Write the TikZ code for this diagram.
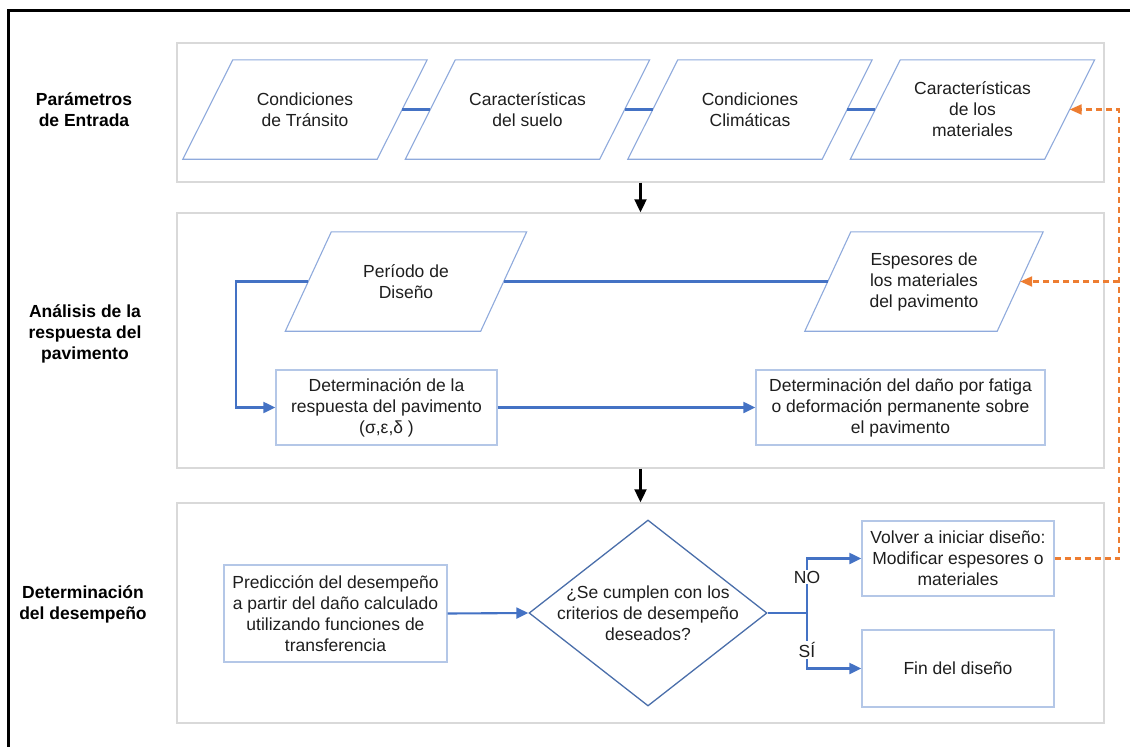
\documentclass[tikz,border=0pt]{standalone}
\usepackage{fontspec}
\setmainfont{Liberation Sans}
\usetikzlibrary{arrows.meta,shapes.geometric,calc}
\definecolor{connblue}{HTML}{4472C4}
\definecolor{parablue}{HTML}{8FAADC}
\definecolor{boxblue}{HTML}{B4C7E7}
\definecolor{diamblue}{HTML}{4A6EAA}
\definecolor{panelgray}{HTML}{D9D9D9}
\definecolor{orng}{HTML}{ED7D31}
\definecolor{txt}{HTML}{1E1E1E}
\begin{document}
\begin{tikzpicture}[x=1pt,y=-1pt,
  font=\fontsize{17.5}{21}\selectfont, text=txt,
  panel/.style={draw=panelgray, line width=1.4pt, minimum width=927pt, inner sep=0pt},
  parabox/.style={minimum width=194pt, minimum height=99pt, inner sep=0pt, align=center},
  paraline/.style={draw=parablue, line width=1.1pt, line join=miter},
  procbox/.style={draw=boxblue, line width=1.3pt, inner sep=0pt, align=center},
  sidelabel/.style={font=\fontsize{17.5}{21}\selectfont\bfseries, text=black, align=center},
  conn/.style={draw=connblue, line width=2.1pt},
  connarrow/.style={conn, -{Triangle[length=12pt,width=11pt]}},
  blackarrow/.style={draw=black, line width=2.1pt, -{Triangle[length=13pt,width=12pt]}},
  orangedash/.style={draw=orng, line width=2.2pt, dash pattern=on 6pt off 4pt},
  orangearrow/.style={orangedash, -{Triangle[length=12pt,width=10pt]}},
  branchlabel/.style={fill=white, inner sep=1pt}]
\useasboundingbox (0,0) rectangle (1130,747);
% outer frame (only left and top visible)
\draw[line width=3pt, black] (8,760) -- (8,10) -- (1140,10);

% panels
\node[panel, minimum height=139pt] (pan1) at (640.5,112.5) {};
\node[panel, minimum height=255pt] (pan2) at (640.5,340.5) {};
\node[panel, minimum height=220pt] (pan3) at (640.5,613) {};

% side labels
\node[sidelabel] (l1) at (84,110) {Parámetros\\de Entrada};
\node[sidelabel] (l2) at (85,334) {Análisis de la\\respuesta del\\pavimento};
\node[sidelabel] (l3) at (83,604) {Determinación\\del desempeño};

% top row parallelograms
\node[parabox] (p1) at (305,109.5) {Condiciones\\de Tránsito};
\node[parabox] (p2) at (527.5,109.5) {Características\\del suelo};
\node[parabox] (p3) at (750,109.5) {Condiciones\\Climáticas};
\node[parabox] (p4) at (972.5,109.5) {Características\\de los\\materiales};
\foreach \n in {p1,p2,p3,p4}
  \draw[paraline] ([xshift=-25pt]\n.south west) -- ([xshift=-25pt]\n.south east)
     -- ([xshift=25pt]\n.north east) -- ([xshift=25pt]\n.north west) -- cycle;

% middle row parallelograms
\node[parabox, minimum width=195pt] (pd) at (406,281.5) {Período de\\Diseño};
\node[parabox, minimum width=192pt] (pe) at (924,281.5) {Espesores de\\los materiales\\del pavimento};
\foreach \n in {pd,pe}
  \draw[paraline] ([xshift=-23pt]\n.south west) -- ([xshift=-23pt]\n.south east)
     -- ([xshift=23pt]\n.north east) -- ([xshift=23pt]\n.north west) -- cycle;

% process boxes
\node[procbox, minimum width=221pt, minimum height=75pt] (r1) at (386.5,407.5)
  {Determinación de la\\respuesta del pavimento\\(σ,ε,δ )};
\node[procbox, minimum width=289pt, minimum height=75pt] (r2) at (900.5,407.5)
  {Determinación del daño por fatiga\\o deformación permanente sobre\\el pavimento};
\node[procbox, minimum width=223pt, minimum height=97pt] (pr) at (335.5,613.5)
  {Predicción del desempeño\\a partir del daño calculado\\utilizando funciones de\\transferencia};
\node[procbox, minimum width=192pt, minimum height=75pt] (vb) at (958,558.5)
  {Volver a iniciar diseño:\\Modificar espesores o\\materiales};
\node[procbox, minimum width=192pt, minimum height=77pt] (fin) at (958,668.5)
  {Fin del diseño};

% decision diamond
\node[diamond, draw=diamblue, line width=1.3pt, minimum width=238pt, minimum height=186pt,
      inner sep=0pt, aspect=1.28] (dm) at (648,613) {};
\node[align=center, inner sep=0pt] (dmtext) at (dm.center)
  {¿Se cumplen con los\\criterios de desempeño\\deseados?};

% top row links
\draw[conn] (p1.east) -- (p2.west);
\draw[conn] (p2.east) -- (p3.west);
\draw[conn] (p3.east) -- (p4.west);

% flow between panels
\draw[blackarrow] (pan1.south) -- (pan2.north);
\draw[blackarrow] (pan2.south) -- (pan3.north);

% middle panel connectors
\draw[conn] (pd.east) -- (pe.west);
\draw[connarrow] (pd.west) -- ++(-72,0) |- (r1.west);
\draw[connarrow] (r1.east) -- (r2.west);

% bottom panel connectors
\draw[connarrow] (pr.east) -- (dm.west);
\draw[conn] (dm.east) -- ++(39,0) coordinate (split);
\draw[connarrow] (split) |- (vb.west);
\draw[connarrow] (split) |- (fin.west);
\node[branchlabel] (no) at (807,577) {NO};
\node[branchlabel] (si) at (807,650) {SÍ};

% orange feedback
\coordinate (ox) at (1119,0);
\draw[orangearrow] (vb.east) -- (vb.east -| ox) |- (p4.east);
\draw[orangearrow] (pe.east -| ox) -- (pe.east);
\end{tikzpicture}
\end{document}
